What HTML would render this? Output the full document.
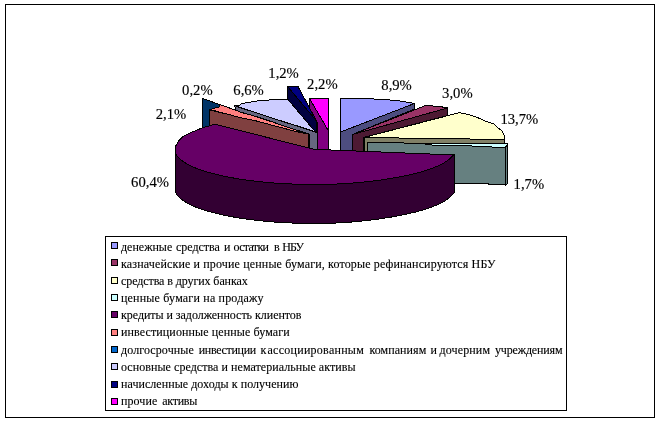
<!DOCTYPE html>
<html><head><meta charset="utf-8"><title>chart</title>
<style>
html,body{margin:0;padding:0;background:#fff;}
svg{display:block}
.dl{font-family:"Liberation Serif",serif;font-size:14.67px;fill:#000;stroke:#000;stroke-width:0.15px}
.lg{font-family:"Liberation Serif",serif;font-size:12px;fill:#000;stroke:#000;stroke-width:0.12px}
</style></head><body>
<svg width="660" height="422" viewBox="0 0 660 422">
<rect x="0" y="0" width="660" height="422" fill="#fff"/>
<rect x="5.5" y="4.5" width="649" height="413" fill="#fff" stroke="#000" stroke-width="1" shape-rendering="crispEdges"/>
<g shape-rendering="crispEdges">
<polygon points="309.5,98.5 328.5,131.0 328.5,150.0 317.0,150.0 317.0,122.0 309.5,109.0" fill="#800080" stroke="#000" stroke-width="1" stroke-linejoin="round"/>
<polygon points="309.5,98.5 328.5,98.5 328.5,131.0" fill="#FF00FF" stroke="#000" stroke-width="1" stroke-linejoin="round"/>
<polygon points="202.5,98.5 219.0,104.3 219.0,108.0 209.5,111.0 209.5,128.0 202.5,128.5" fill="#003366" stroke="#000" stroke-width="1" stroke-linejoin="round"/>
<polygon points="210.0,109.5 219.0,107.0 219.0,104.3 236.3,110.4 240.0,112.0 256.5,116.7 272.0,121.8 290.0,128.0 296.0,130.0 296.0,131.5 272.0,125.2 256.5,121.0 240.0,117.5 228.0,114.3" fill="#FF8080" stroke="#000" stroke-width="1" stroke-linejoin="round"/>
<polygon points="209.5,110.0 228.0,114.3 240.0,117.5 256.5,121.0 272.0,125.2 296.0,131.5 308.5,134.0 308.5,148.0 215.0,125.0 209.5,127.0" fill="#804040" stroke="#000" stroke-width="1" stroke-linejoin="round"/>
<polygon points="234.5,105.5 240.0,105.0 242.0,103.5 249.3,102.3 257.3,101.0 267.3,100.2 276.0,99.2 288.0,99.0 315.0,131.5 272.0,118.0 239.0,107.2" fill="#CCCCFF" stroke="#000" stroke-width="1" stroke-linejoin="round"/>
<polygon points="234.5,105.5 239.0,107.2 272.0,118.0 314.0,131.5 317.0,133.0 317.0,150.0 309.0,148.0 309.0,134.0 290.0,128.0 272.0,121.8 256.5,116.7 240.0,112.0 236.3,110.4" fill="#666680" stroke="#000" stroke-width="1" stroke-linejoin="round"/>
<polygon points="287.5,86.5 316.5,121.0 316.5,132.0 315.0,131.5 288.0,99.5" fill="#000040" stroke="#000" stroke-width="1" stroke-linejoin="round"/>
<polygon points="287.5,86.5 298.0,86.5 316.5,121.0" fill="#000080" stroke="#000" stroke-width="1" stroke-linejoin="round"/>
<polygon points="340.5,98.5 365.0,98.5 380.0,99.3 390.0,100.0 396.0,100.5 405.0,101.8 414.5,103.5 340.5,132.0" fill="#9999FF" stroke="#000" stroke-width="1" stroke-linejoin="round"/>
<polygon points="340.5,132.0 414.5,103.5 414.5,109.0 352.5,134.5 352.5,151.0 340.5,151.0" fill="#4D4D80" stroke="#000" stroke-width="1" stroke-linejoin="round"/>
<polygon points="352.5,134.5 425.5,105.5 440.0,106.5 447.5,108.0" fill="#993366" stroke="#000" stroke-width="1" stroke-linejoin="round"/>
<polygon points="352.5,134.5 447.5,108.0 447.5,115.5 363.5,137.5 363.5,152.0 352.5,152.0" fill="#4D1A33" stroke="#000" stroke-width="1" stroke-linejoin="round"/>
<polygon points="472.0,139.5 468.5,138.5 400.0,138.5 398.0,137.3 364.5,137.3 459.5,112.6 470.0,115.0 480.0,118.5 485.0,121.0 494.0,124.0 497.0,127.0 502.0,131.0 504.5,136.0 504.5,140.0" fill="#FFFFCC" stroke="#000" stroke-width="1" stroke-linejoin="round"/>
<polygon points="364.5,137.3 398.0,137.3 400.0,138.5 468.5,138.5 472.0,139.5 504.5,140.0 504.5,146.0 367.0,146.0 367.0,152.0 364.5,152.0" fill="#808066" stroke="#000" stroke-width="1" stroke-linejoin="round"/>
<polygon points="367.0,142.3 420.0,143.3 436.0,145.5 464.0,145.6 492.0,147.0 505.5,147.5 505.5,185.5 505.0,184.5 488.0,184.5 488.0,183.0 367.0,183.0" fill="#668080" stroke="#000" stroke-width="1" stroke-linejoin="round"/>
<polygon points="505.5,147.5 507.5,144.0 507.5,183.5 505.5,185.5" fill="#668080" stroke="#000" stroke-width="1" stroke-linejoin="round"/>
<polygon points="420.0,143.3 436.0,143.5 507.5,143.8 505.5,147.5 492.0,147.0 464.0,145.6 436.0,145.5" fill="#CCFFFF" stroke="#000" stroke-width="1" stroke-linejoin="round"/>
<polygon points="454.5,155.0 452.4,156.0 451.0,157.6 449.3,159.2 447.2,160.7 444.9,162.3 442.2,163.8 439.3,165.3 436.1,166.7 432.6,168.1 428.9,169.5 424.9,170.8 420.6,172.0 416.1,173.3 411.4,174.4 406.5,175.5 401.3,176.6 396.0,177.6 390.4,178.5 384.7,179.4 378.9,180.3 372.9,181.0 366.7,181.7 360.5,182.4 354.1,182.9 347.7,183.4 341.2,183.8 334.6,184.1 328.0,184.4 321.3,184.5 314.7,184.5 308.0,184.5 301.3,184.3 294.7,184.1 288.2,183.9 281.6,183.5 275.2,183.1 268.9,182.6 262.6,182.0 256.5,181.3 250.5,180.6 244.7,179.8 239.0,179.0 233.5,178.0 228.2,177.1 223.0,176.0 218.1,174.9 213.4,173.7 208.9,172.5 204.7,171.2 200.7,169.9 197.0,168.6 193.5,167.2 190.4,165.7 187.5,164.2 184.9,162.7 182.6,161.2 180.5,159.6 178.8,158.0 177.4,156.4 176.4,154.8 175.5,152.0 175.5,192.0 176.4,193.8 177.4,195.4 178.8,197.0 180.5,198.6 182.6,200.2 184.9,201.7 187.5,203.2 190.4,204.7 193.5,206.2 197.0,207.6 200.7,208.9 204.7,210.2 208.9,211.5 213.4,212.7 218.1,213.9 223.0,215.0 228.2,216.1 233.5,217.0 239.0,218.0 244.7,218.8 250.5,219.6 256.5,220.3 262.6,221.0 268.9,221.6 275.2,222.1 281.6,222.5 288.2,222.9 294.7,223.1 301.3,223.3 308.0,223.5 314.7,223.5 321.3,223.5 328.0,223.4 334.6,223.1 341.2,222.7 347.7,222.3 354.1,221.8 360.5,221.2 366.7,220.5 372.9,219.8 378.9,219.0 384.7,218.1 390.4,217.2 396.0,216.2 401.3,215.2 406.5,214.1 411.4,213.0 416.1,211.9 420.6,210.6 424.9,209.4 428.9,208.1 432.6,206.7 436.1,205.3 439.3,203.9 442.2,202.4 444.9,200.9 447.2,199.3 449.3,197.8 451.0,196.2 452.4,194.6 454.5,192.5" fill="#330033" stroke="#000" stroke-width="1" stroke-linejoin="round"/>
<polygon points="314.0,149.3 454.5,155.0 452.4,156.0 451.0,157.6 449.3,159.2 447.2,160.7 444.9,162.3 442.2,163.8 439.3,165.3 436.1,166.7 432.6,168.1 428.9,169.5 424.9,170.8 420.6,172.0 416.1,173.3 411.4,174.4 406.5,175.5 401.3,176.6 396.0,177.6 390.4,178.5 384.7,179.4 378.9,180.3 372.9,181.0 366.7,181.7 360.5,182.4 354.1,182.9 347.7,183.4 341.2,183.8 334.6,184.1 328.0,184.4 321.3,184.5 314.7,184.5 308.0,184.5 301.3,184.3 294.7,184.1 288.2,183.9 281.6,183.5 275.2,183.1 268.9,182.6 262.6,182.0 256.5,181.3 250.5,180.6 244.7,179.8 239.0,179.0 233.5,178.0 228.2,177.1 223.0,176.0 218.1,174.9 213.4,173.7 208.9,172.5 204.7,171.2 200.7,169.9 197.0,168.6 193.5,167.2 190.4,165.7 187.5,164.2 184.9,162.7 182.6,161.2 180.5,159.6 178.8,158.0 177.4,156.4 176.4,154.8 175.5,152.0 175.5,146.5 178.5,141.0 182.5,137.0 191.0,132.5 202.0,128.0 215.0,124.2" fill="#660066" stroke="#000" stroke-width="1" stroke-linejoin="round"/>
</g>
<rect x="105.5" y="236.5" width="461" height="174" fill="#fff" stroke="#000" stroke-width="1" shape-rendering="crispEdges"/>
<g shape-rendering="crispEdges">
<rect x="111.5" y="242.5" width="6" height="6" fill="#9999FF" stroke="#000" stroke-width="1"/>
<rect x="111.5" y="259.5" width="6" height="6" fill="#993366" stroke="#000" stroke-width="1"/>
<rect x="111.5" y="277.5" width="6" height="6" fill="#FFFFCC" stroke="#000" stroke-width="1"/>
<rect x="111.5" y="294.5" width="6" height="6" fill="#CCFFFF" stroke="#000" stroke-width="1"/>
<rect x="111.5" y="311.5" width="6" height="6" fill="#660066" stroke="#000" stroke-width="1"/>
<rect x="111.5" y="329.5" width="6" height="6" fill="#FF8080" stroke="#000" stroke-width="1"/>
<rect x="111.5" y="346.5" width="6" height="6" fill="#0066CC" stroke="#000" stroke-width="1"/>
<rect x="111.5" y="363.5" width="6" height="6" fill="#CCCCFF" stroke="#000" stroke-width="1"/>
<rect x="111.5" y="381.5" width="6" height="6" fill="#000080" stroke="#000" stroke-width="1"/>
<rect x="111.5" y="398.5" width="6" height="6" fill="#FF00FF" stroke="#000" stroke-width="1"/>
</g>
<text x="121" y="251.0" class="lg"><tspan x="121" textLength="51.25" lengthAdjust="spacing">денежные</tspan> <tspan x="176" textLength="43.75" lengthAdjust="spacing">средства</tspan> <tspan x="224" textLength="5.75" lengthAdjust="spacing">и</tspan> <tspan x="233.5" textLength="35.50" lengthAdjust="spacing">остатки</tspan> <tspan x="274" textLength="5.75" lengthAdjust="spacing">в</tspan> <tspan x="282.25" textLength="21.75" lengthAdjust="spacing">НБУ</tspan></text>
<text x="121" y="268.1" class="lg" textLength="374.5" lengthAdjust="spacing">казначейские и прочие ценные бумаги, которые рефинансируются НБУ</text>
<text x="121" y="285.2" class="lg" textLength="126.75" lengthAdjust="spacing">средства в других банках</text>
<text x="121" y="302.2" class="lg" textLength="142.5" lengthAdjust="spacing">ценные бумаги на продажу</text>
<text x="121" y="319.3" class="lg" textLength="180.5" lengthAdjust="spacing">кредиты и задолженность клиентов</text>
<text x="121" y="336.4" class="lg" textLength="168.75" lengthAdjust="spacing">инвестиционные ценные бумаги</text>
<text x="121" y="353.5" class="lg"><tspan x="121" textLength="72.75" lengthAdjust="spacing">долгосрочные</tspan> <tspan x="198.75" textLength="57.50" lengthAdjust="spacing">инвестиции</tspan> <tspan x="260.5" textLength="5.75" lengthAdjust="spacing">к</tspan> <tspan x="267.5" textLength="96.25" lengthAdjust="spacing">ассоциированным</tspan> <tspan x="369.5" textLength="56.75" lengthAdjust="spacing">компаниям</tspan> <tspan x="430.5" textLength="5.75" lengthAdjust="spacing">и</tspan> <tspan x="439.5" textLength="50.50" lengthAdjust="spacing">дочерним</tspan> <tspan x="495" textLength="67.50" lengthAdjust="spacing">учреждениям</tspan></text>
<text x="121" y="370.6" class="lg" textLength="234.5" lengthAdjust="spacing">основные средства и нематериальные активы</text>
<text x="121" y="387.6" class="lg" textLength="177.5" lengthAdjust="spacing">начисленные доходы к получению</text>
<text x="121" y="404.7" class="lg"><tspan x="121" textLength="36.25" lengthAdjust="spacing">прочие</tspan> <tspan x="162.25" textLength="35.00" lengthAdjust="spacing">активы</tspan></text>
<text x="381.3" y="90.4" class="dl">8,9%</text>
<text x="442.1" y="98.4" class="dl">3,0%</text>
<text x="500.4" y="123.7" class="dl">13,7%</text>
<text x="513.6" y="189.3" class="dl">1,7%</text>
<text x="131.1" y="186.8" class="dl">60,4%</text>
<text x="155.7" y="119.4" class="dl">2,1%</text>
<text x="182.1" y="95.4" class="dl">0,2%</text>
<text x="233.3" y="94.8" class="dl">6,6%</text>
<text x="268.3" y="78.0" class="dl">1,2%</text>
<text x="307.1" y="89.0" class="dl">2,2%</text>
</svg>
</body></html>
